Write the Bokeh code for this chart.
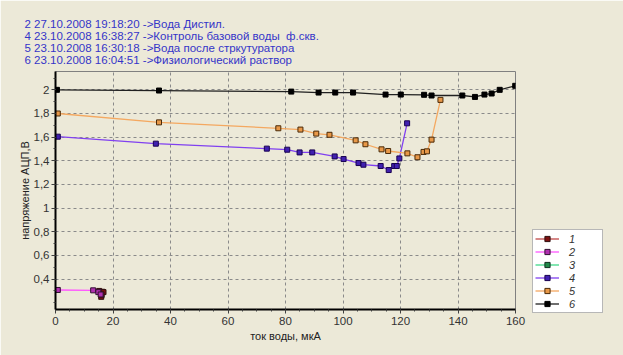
from bokeh.plotting import figure
from bokeh.models import (Range1d, FixedTicker, Legend, LegendItem, Title)
from bokeh.embed import file_html
from bokeh.resources import INLINE

# ---- data ----
s1_x = [15.2, 16.3, 15.9, 16.7, 16.0]
s1_y = [0.300, 0.293, 0.250, 0.290, 0.270]

s2_x = [0.8, 13.1, 14.9, 15.7]
s2_y = [0.308, 0.305, 0.290, 0.270]

s3_x = [16.0]
s3_y = [0.262]

s4_x = [0.8, 34.9, 73.5, 80.6, 84.9, 89.3, 97.1, 100.2, 105.4, 107.1, 113.1, 115.9, 117.8, 118.7, 119.6, 122.3]
s4_y = [1.604, 1.545, 1.503, 1.494, 1.471, 1.471, 1.437, 1.415, 1.381, 1.367, 1.356, 1.322, 1.356, 1.356, 1.420, 1.717]

s5_x = [0.8, 36.0, 77.5, 85.2, 90.7, 95.3, 104.4, 107.8, 113.4, 115.7, 122.4, 125.9, 128.0, 129.2, 130.8, 133.9]
s5_y = [1.800, 1.725, 1.675, 1.664, 1.630, 1.620, 1.573, 1.540, 1.497, 1.483, 1.463, 1.430, 1.475, 1.480, 1.579, 1.915]

s6_x = [0.5, 36.0, 82.0, 91.5, 97.3, 103.5, 114.8, 120.1, 128.2, 130.8, 141.5, 145.9, 149.2, 151.7, 154.5, 159.9]
s6_y = [2.000, 1.994, 1.985, 1.977, 1.977, 1.977, 1.960, 1.960, 1.958, 1.952, 1.952, 1.940, 1.960, 1.969, 2.000, 2.034]

series_names = ["1", "2", "3", "4", "5", "6"]
title_lines = [
    "2 27.10.2008 19:18:20 ->Вода Дистил.",
    "4 23.10.2008 16:38:27 ->Контроль базовой воды\u00a0 ф.скв.",
    "5 23.10.2008 16:30:18 ->Вода после стркутуратора",
    "6 23.10.2008 16:04:51 ->Физиологический раствор",
]
x_ticks = [0, 20, 40, 60, 80, 100, 120, 140, 160]
y_ticks = [0.4, 0.6, 0.8, 1.0, 1.2, 1.4, 1.6, 1.8, 2.0]
y_tick_labels = ["0,4", "0,6", "0,8", "1", "1,2", "1,4", "1,6", "1,8", "2"]

BG = "#ECE9D8"
FONT = "Liberation Sans"

p = figure(frame_width=460, frame_height=238, output_backend="svg", toolbar_location=None,
           x_range=Range1d(0, 160), y_range=Range1d(0.143, 2.155),
           min_border_left=55, min_border_right=100, min_border_top=71, min_border_bottom=46)
p.background_fill_color = BG
p.border_fill_color = BG
p.outline_line_color = "#808080"
p.outline_line_width = 1

# axes
p.xaxis.ticker = FixedTicker(ticks=x_ticks, minor_ticks=list(range(0, 161, 5)))
p.yaxis.ticker = FixedTicker(ticks=y_ticks, minor_ticks=[round(0.2 + 0.1 * i, 2) for i in range(20)])
p.yaxis.major_label_overrides = {t: l for t, l in zip(y_ticks, y_tick_labels)}
for ax in (p.xaxis, p.yaxis):
    ax.axis_line_color = "black"
    ax.axis_line_width = 2
    ax.major_tick_line_color = "#404040"
    ax.minor_tick_line_color = "#404040"
    ax.major_tick_in = 0
    ax.major_tick_out = 4
    ax.minor_tick_in = 0
    ax.minor_tick_out = 2
    ax.major_label_text_font = FONT
    ax.major_label_text_font_size = "11.5px"
    ax.major_label_text_color = "#333333"
    ax.axis_label_text_font = FONT
    ax.axis_label_text_font_size = "11px"
    ax.axis_label_text_font_style = "normal"
    ax.axis_label_text_color = "#222222"
p.xaxis.axis_label = "ток воды, мкА"
p.yaxis.axis_label = "напряжение АЦП,В"
p.xaxis.major_label_standoff = 3
p.yaxis.major_label_standoff = 2
p.xaxis.axis_label_standoff = 2
p.yaxis.axis_label_standoff = 0

# grid
for g in (p.xgrid, p.ygrid):
    g.grid_line_color = "#8a8a8a"
    g.grid_line_dash = "3 3"
    g.grid_line_width = 1
p.xgrid.ticker = FixedTicker(ticks=x_ticks)
p.ygrid.ticker = FixedTicker(ticks=y_ticks)

styles = [
    (s1_x, s1_y, "#C04848", "#7A1010", "#301010"),
    (s2_x, s2_y, "#FF55FF", "#B030B0", "#301030"),
    (s3_x, s3_y, "#40D888", "#208848", "#103020"),
    (s4_x, s4_y, "#8040F0", "#4020B0", "#180050"),
    (s5_x, s5_y, "#F4A860", "#E89848", "#4A2A08"),
    (s6_x, s6_y, "#202020", "#000000", "#000000"),
]
order = [2, 0, 1, 3, 4, 5]
rends = {}
for i in order:
    xs, ys, lc, fc, oc = styles[i]
    lr = p.line(xs, ys, line_color=lc, line_width=1.3)
    sr = p.scatter(xs, ys, marker="square", size=5, fill_color=fc, line_color=oc, line_width=1)
    rends[i] = [lr, sr]
items = [LegendItem(label=series_names[i], renderers=rends[i]) for i in range(6)]

legend = Legend(items=items, location=(17, -4))
legend.background_fill_color = "white"
legend.background_fill_alpha = 1
legend.border_line_color = "#707070"
legend.border_line_width = 1.5
legend.label_text_font = FONT
legend.label_text_font_style = "italic"
legend.label_text_font_size = "11px"
legend.label_text_color = "#333333"
legend.glyph_width = 24
legend.glyph_height = 13
legend.label_height = 13
legend.label_width = 31
legend.spacing = 0
legend.padding = 2
legend.margin = 0
legend.label_standoff = 10
p.add_layout(legend, "right")

# header text block
p.add_layout(Title(text="\n".join(title_lines), align="left", offset=-31, standoff=11,
                   text_font=FONT, text_font_size="11.5px", text_font_style="normal",
                   text_line_height=1.0, text_color="#3535C8"), "above")

open("out.html", "w").write(file_html(p, INLINE))
